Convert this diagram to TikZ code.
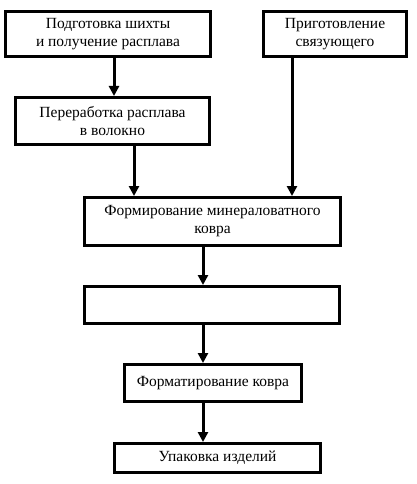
\documentclass[tikz,border=0pt]{standalone}
\usepackage{fontspec}
\setmainfont{Liberation Serif}
\usetikzlibrary{arrows.meta}
\begin{document}
\begin{tikzpicture}[x=1pt,y=1pt,
  box/.style={draw, line width=3pt, inner sep=0pt, align=center, font=\fontsize{15.5}{18}\selectfont},
  arr/.style={line width=3pt, -{Triangle[length=10pt,width=10pt]}}]
\useasboundingbox (0,0) rectangle (416,-484);
\node[box, minimum width=205pt, minimum height=45pt] (b1) at (108,-34) {Подготовка шихты\\и получение расплава};
\node[box, minimum width=143pt, minimum height=45pt] (b2) at (335,-34) {Приготовление\\связующего};
\node[box, minimum width=194pt, minimum height=47pt] (b3) at (112.5,-121) {Переработка расплава\\в волокно};
\node[box, minimum width=256pt, minimum height=48pt] (b4) at (212.5,-221.5) {Формирование минераловатного\\ковра};
\node[box, minimum width=255pt, minimum height=37pt] (b5) at (212,-305) {};
\node[box, minimum width=177pt, minimum height=37pt] (b6) at (213,-383) {Форматирование ковра};
\node[box, minimum width=206pt, minimum height=29pt] (b7) at (217.5,-458) {Упаковка изделий};
\draw[arr] (b1.south -| 114,0) -- (b3.north -| 114,0);
\draw[arr] (b3.south -| 134,0) -- (b4.north -| 134,0);
\draw[arr] (b2.south -| 292,0) -- (b4.north -| 292,0);
\draw[arr] (b4.south -| 203,0) -- (b5.north -| 203,0);
\draw[arr] (b5.south -| 203,0) -- (b6.north -| 203,0);
\draw[arr] (b6.south -| 203,0) -- (b7.north -| 203,0);
\end{tikzpicture}
\end{document}
